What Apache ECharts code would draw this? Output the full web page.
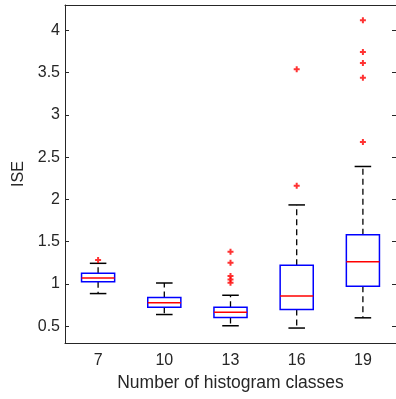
<!DOCTYPE html>
<html>
<head>
<meta charset="utf-8">
<script src="https://cdn.jsdelivr.net/npm/echarts@6/dist/echarts.min.js"></script>
<style>html,body{margin:0;padding:0;background:#fff;}#c{width:396px;height:399px;}</style>
</head>
<body>
<div id="c"></div>
<script>
var categories = ['7', '10', '13', '16', '19'];
var lowerWhisker = [0.885, 0.637, 0.504, 0.477, 0.598];
var q1 = [1.026, 0.724, 0.602, 0.697, 0.972];
var median = [1.07, 0.775, 0.665, 0.857, 1.262];
var q3 = [1.125, 0.838, 0.724, 1.219, 1.581];
var upperWhisker = [1.243, 1.01, 0.865, 1.934, 2.389];
var outliers7 = [1.281];
var outliers10 = [];
var outliers13 = [1.38, 1.25, 1.092, 1.052, 1.012];
var outliers16 = [3.54, 2.162];
var outliers19 = [4.12, 3.744, 3.615, 3.438, 2.68];
var yTicks = [0.5, 1, 1.5, 2, 2.5, 3, 3.5, 4];

var boxData = categories.map(function (c, i) {
  return [i, lowerWhisker[i], q1[i], median[i], q3[i], upperWhisker[i]];
});
var outlierData = [];
[outliers7, outliers10, outliers13, outliers16, outliers19].forEach(function (arr, i) {
  arr.forEach(function (v) { outlierData.push([i, v]); });
});

var font = "'Liberation Sans', Arial, sans-serif";
var axisColor = '#262626';

function renderBox(params, api) {
  var i = api.value(0);
  var bw = api.size([1, 0])[0] * 0.5;
  var cw = bw * 0.5;
  var pLow = api.coord([i, api.value(1)]);
  var pQ1 = api.coord([i, api.value(2)]);
  var pMed = api.coord([i, api.value(3)]);
  var pQ3 = api.coord([i, api.value(4)]);
  var pUp = api.coord([i, api.value(5)]);
  var x = pMed[0];
  var dash = { stroke: '#000', lineWidth: 1.3, lineDash: [6, 4] };
  var solid = { stroke: '#000', lineWidth: 1.5 };
  return {
    type: 'group',
    children: [
      { type: 'line', shape: { x1: x, y1: pQ3[1], x2: x, y2: pUp[1] }, style: dash },
      { type: 'line', shape: { x1: x, y1: pQ1[1], x2: x, y2: pLow[1] }, style: dash },
      { type: 'line', shape: { x1: x - cw / 2, y1: pUp[1], x2: x + cw / 2, y2: pUp[1] }, style: solid },
      { type: 'line', shape: { x1: x - cw / 2, y1: pLow[1], x2: x + cw / 2, y2: pLow[1] }, style: solid },
      { type: 'rect', shape: { x: x - bw / 2, y: pQ3[1], width: bw, height: pQ1[1] - pQ3[1] },
        style: { fill: '#fff', stroke: '#0000ff', lineWidth: 1.5 } },
      { type: 'line', shape: { x1: x - bw / 2, y1: pMed[1], x2: x + bw / 2, y2: pMed[1] },
        style: { stroke: '#ff0000', lineWidth: 1.5 } }
    ]
  };
}

var chart = echarts.init(document.getElementById('c'), null, { renderer: 'canvas' });
chart.setOption({
  animation: false,
  backgroundColor: '#fff',
  grid: { left: 65, top: 5, width: 339, height: 338 },
  xAxis: [{
    type: 'category',
    data: categories,
    boundaryGap: true,
    name: 'Number of histogram classes',
    nameLocation: 'middle',
    nameGap: 28,
    nameTextStyle: { color: axisColor, fontSize: 17.5, fontFamily: font },
    axisLine: { lineStyle: { color: axisColor, width: 1 } },
    axisTick: { inside: true, alignWithLabel: true, length: 4, lineStyle: { color: axisColor } },
    axisLabel: { color: axisColor, fontSize: 16, fontFamily: font, margin: 10 },
    splitLine: { show: false }
  }, {
    type: 'category',
    data: categories,
    position: 'top',
    boundaryGap: true,
    axisLine: { lineStyle: { color: axisColor, width: 1 } },
    axisTick: { inside: true, alignWithLabel: true, length: 4, lineStyle: { color: axisColor } },
    axisLabel: { show: false },
    splitLine: { show: false }
  }],
  yAxis: [{
    type: 'value',
    min: 0.3,
    max: 4.3,
    name: 'ISE',
    nameLocation: 'middle',
    nameGap: 38,
    nameRotate: 90,
    nameTextStyle: { color: axisColor, fontSize: 16, fontFamily: font },
    axisLine: { show: true, lineStyle: { color: axisColor, width: 1 } },
    axisTick: { show: true, inside: true, length: 4, customValues: yTicks, lineStyle: { color: axisColor } },
    axisLabel: { color: axisColor, fontSize: 16, fontFamily: font, margin: 5, customValues: yTicks },
    splitLine: { show: false }
  }, {
    type: 'value',
    min: 0.3,
    max: 4.3,
    position: 'right',
    axisLine: { show: true, lineStyle: { color: axisColor, width: 1 } },
    axisTick: { show: true, inside: true, length: 4, customValues: yTicks, lineStyle: { color: axisColor } },
    axisLabel: { show: false },
    splitLine: { show: false }
  }],
  series: [{
    type: 'custom',
    renderItem: renderBox,
    data: boxData,
    encode: { x: 0, y: [1, 2, 3, 4, 5] },
    z: 2
  }, {
    type: 'scatter',
    data: outlierData,
    symbol: 'path://M3,0H6V3H9V6H6V9H3V6H0V3H3Z',
    symbolSize: 6,
    itemStyle: { color: '#ff0000' },
    z: 3
  }]
});
</script>
</body>
</html>
